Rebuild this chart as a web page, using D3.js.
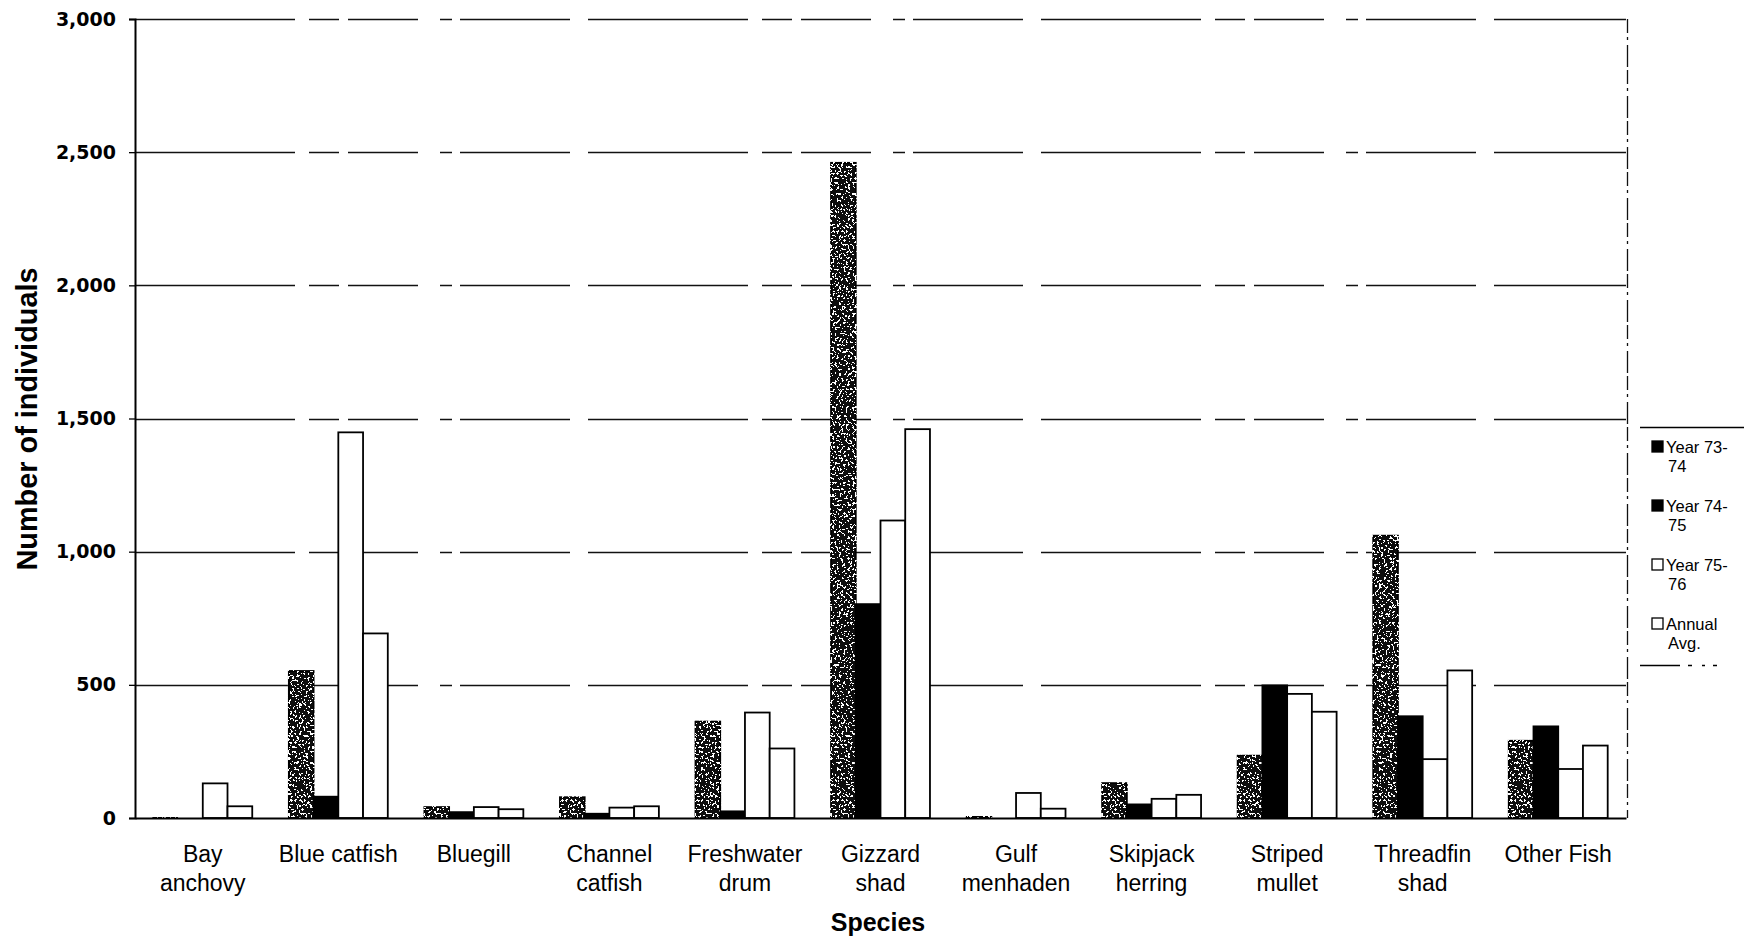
<!DOCTYPE html>
<html>
<head>
<meta charset="utf-8">
<script src="https://cdn.jsdelivr.net/npm/d3@7"></script>
<style>
  html, body { margin: 0; padding: 0; background: #fff; }
  svg { display: block; }
</style>
</head>
<body>
<svg id="chart" width="1748" height="940"></svg>
<script>
// Fish counts by species for three survey years plus the annual average
const categories = ["Bay anchovy", "Blue catfish", "Bluegill", "Channel catfish", "Freshwater drum",
  "Gizzard shad", "Gulf menhaden", "Skipjack herring", "Striped mullet", "Threadfin shad", "Other Fish"];
const categoryLabels = [["Bay", "anchovy"], ["Blue catfish"], ["Bluegill"], ["Channel", "catfish"],
  ["Freshwater", "drum"], ["Gizzard", "shad"], ["Gulf", "menhaden"], ["Skipjack", "herring"],
  ["Striped", "mullet"], ["Threadfin", "shad"], ["Other Fish"]];
const seriesNames = ["Year 73-74", "Year 74-75", "Year 75-76", "Annual Avg."];
const legendLabels = [["Year 73-", "74"], ["Year 74-", "75"], ["Year 75-", "76"], ["Annual", "Avg."]];
const year7374 = [2, 552, 41, 78, 362, 2460, 6, 131, 234, 1060, 290];
const year7475 = [0, 80, 22, 16, 25, 803, 0, 51, 498, 382, 344];
const year7576 = [130, 1448, 41, 39, 396, 1117, 94, 72, 466, 221, 184];
const annualAvg = [44, 693, 33, 44, 261, 1460, 35, 87, 399, 554, 272];
const yTicks = [0, 500, 1000, 1500, 2000, 2500, 3000];

const seriesValues = [year7374, year7475, year7576, annualAvg];

const svg = d3.select("#chart");
const plot = { left: 135, right: 1626, top: 19, bottom: 818 };

// Speckled fill used for the first survey year
const defs = svg.append("defs");
const f = defs.append("filter").attr("id", "stipple")
  .attr("x", "-10%").attr("y", "-2%").attr("width", "120%").attr("height", "104%");
f.append("feTurbulence").attr("type", "fractalNoise").attr("baseFrequency", "0.45")
  .attr("numOctaves", 2).attr("seed", 7).attr("result", "noise");
f.append("feColorMatrix").attr("in", "noise").attr("type", "matrix")
  .attr("values", "0 0 0 0 1  0 0 0 0 1  0 0 0 0 1  1 0 0 0 0").attr("result", "whiteA");
f.append("feComponentTransfer").attr("in", "whiteA").attr("result", "speck")
  .append("feFuncA").attr("type", "discrete").attr("tableValues", "0 0 0 1 1");
f.append("feComposite").attr("in", "speck").attr("in2", "SourceAlpha").attr("operator", "in").attr("result", "speckIn");
const merge = f.append("feMerge");
merge.append("feMergeNode").attr("in", "SourceGraphic");
merge.append("feMergeNode").attr("in", "speckIn");

const x0 = d3.scaleBand().domain(categories).range([plot.left, plot.right]).paddingInner(0).paddingOuter(0);
const x1 = d3.scaleBand().domain(seriesNames).range([0, x0.bandwidth()]).paddingInner(0).paddingOuter(0.74);
const y = d3.scaleLinear().domain([0, 3000]).range([plot.bottom, plot.top]);

const fills = ["#111", "#000", "#fff", "#fff"];

// Horizontal gridlines (broken, as printed)
svg.append("g").selectAll("line").data(yTicks.filter(d => d > 0)).join("line")
  .attr("x1", plot.left).attr("x2", plot.right)
  .attr("y1", d => Math.round(y(d)) + 0.5).attr("y2", d => Math.round(y(d)) + 0.5)
  .attr("stroke", "#111").attr("stroke-width", 1.3)
  .attr("stroke-dasharray", "160,14,30,9,70,22,12,8,110,18");

// Right border of the plot area
svg.append("line")
  .attr("x1", plot.right + 1.5).attr("x2", plot.right + 1.5)
  .attr("y1", plot.top).attr("y2", plot.bottom)
  .attr("stroke", "#111").attr("stroke-width", 1.3).attr("stroke-dasharray", "14,4,3,5,22,3");

// Bars
const groups = svg.append("g").selectAll("g").data(categories).join("g")
  .attr("transform", d => `translate(${x0(d)},0)`);
groups.selectAll("rect")
  .data((c, i) => seriesNames.map((s, k) => ({ s, k, v: seriesValues[k][i] })))
  .join("rect")
  .attr("x", d => x1(d.s))
  .attr("width", x1.bandwidth())
  .attr("y", d => y(d.v))
  .attr("height", d => y(0) - y(d.v))
  .attr("fill", d => fills[d.k])
  .attr("stroke", "#000").attr("stroke-width", 1.8)
  .attr("filter", d => d.k === 0 ? "url(#stipple)" : null);

// Y axis
const yAxis = d3.axisLeft(y).tickValues(yTicks).tickFormat(d3.format(",")).tickSize(6).tickPadding(13);
const gy = svg.append("g").attr("transform", `translate(${plot.left},0)`).call(yAxis);
gy.select(".domain").attr("stroke", "#000").attr("stroke-width", 2);
gy.selectAll(".tick line").attr("stroke", "#000").attr("stroke-width", 1.3);
gy.selectAll(".tick text")
  .attr("font-family", "'DejaVu Sans', sans-serif").attr("font-weight", "bold")
  .attr("font-size", 19).attr("fill", "#000");

// X axis baseline
const xAxis = d3.axisBottom(x0).tickSize(0).tickFormat("");
const gx = svg.append("g").attr("transform", `translate(0,${plot.bottom})`).call(xAxis);
gx.select(".domain").attr("stroke", "#000").attr("stroke-width", 2);

// Category labels
const labG = svg.append("g").attr("font-family", "'Liberation Sans', Arial, sans-serif")
  .attr("font-size", 23).attr("fill", "#000").attr("text-anchor", "middle");
categories.forEach((c, i) => {
  const t = labG.append("text").attr("x", x0(c) + x0.bandwidth() / 2).attr("y", 862);
  categoryLabels[i].forEach((line, j) => {
    t.append("tspan").attr("x", x0(c) + x0.bandwidth() / 2).attr("dy", j === 0 ? 0 : 29).text(line);
  });
});

// Axis titles
svg.append("text")
  .attr("transform", "translate(37,419) rotate(-90)")
  .attr("text-anchor", "middle")
  .attr("font-family", "'Liberation Sans', Arial, sans-serif").attr("font-weight", "bold")
  .attr("font-size", 29).attr("textLength", 303).attr("lengthAdjust", "spacingAndGlyphs")
  .text("Number of individuals");
svg.append("text")
  .attr("x", 878).attr("y", 931).attr("text-anchor", "middle")
  .attr("font-family", "'Liberation Sans', Arial, sans-serif").attr("font-weight", "bold")
  .attr("font-size", 25).text("Species");

// Legend
const lg = svg.append("g");
lg.append("line").attr("x1", 1640).attr("x2", 1744).attr("y1", 427.5).attr("y2", 427.5)
  .attr("stroke", "#000").attr("stroke-width", 1.3);
lg.append("line").attr("x1", 1640).attr("x2", 1745).attr("y1", 665.5).attr("y2", 665.5)
  .attr("stroke", "#000").attr("stroke-width", 1.3).attr("stroke-dasharray", "40,8,4,10,3,8,4,30");
seriesNames.forEach((s, k) => {
  const yy = 447 + k * 59;
  lg.append("rect").attr("x", 1652).attr("y", yy - 6).attr("width", 11).attr("height", 11)
    .attr("fill", k < 2 ? "#000" : "#fff").attr("stroke", "#000").attr("stroke-width", 1.3);
  const t = lg.append("text").attr("x", 1666).attr("y", yy + 6)
    .attr("font-family", "'Liberation Sans', Arial, sans-serif").attr("font-size", 16.5).attr("fill", "#000");
  legendLabels[k].forEach((line, j) => {
    t.append("tspan").attr("x", j === 0 ? 1666 : 1668).attr("dy", j === 0 ? 0 : 19).text(line);
  });
});
</script>
</body>
</html>
